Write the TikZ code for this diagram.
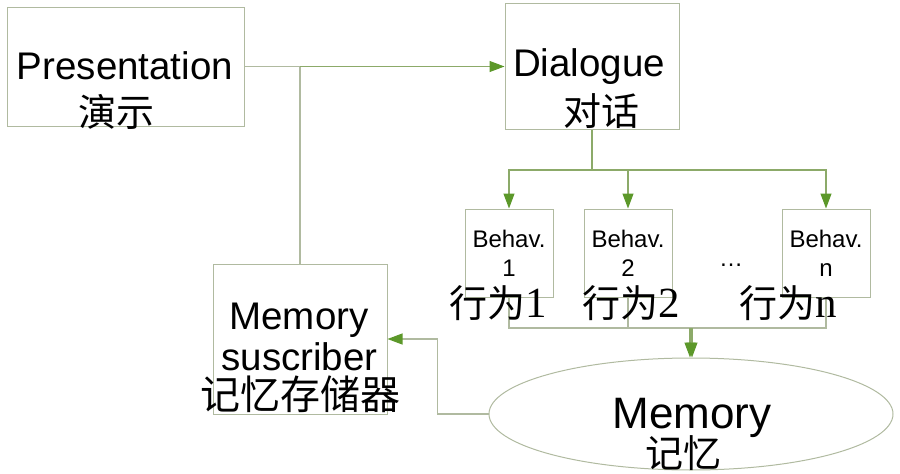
\documentclass[tikz,border=0pt]{standalone}
\usepackage{fontspec}
\setmainfont{Liberation Sans}
\newfontfamily\cjk{Noto Sans CJK SC}
\newfontfamily\digits{Liberation Serif}
\usetikzlibrary{arrows.meta,shapes.geometric,positioning}
\definecolor{boxline}{RGB}{176,186,160}
\definecolor{wireline}{RGB}{140,170,105}
\definecolor{tipgreen}{RGB}{92,152,42}

\begin{document}
\begin{tikzpicture}[x=1pt,y=-1pt,
    box/.style={draw=boxline,line width=1pt,inner sep=0pt},
    behav/.style={box,minimum width=88pt,minimum height=88pt},
    wire/.style={draw=wireline,line width=1.1pt},
    pale/.style={draw=boxline,line width=1.1pt},
    tip/.tip={Triangle[length=15pt,width=11pt,color=tipgreen]},
    big/.style={font=\fontsize{38.5}{40}\selectfont,inner sep=0pt,anchor=base},
    small/.style={font=\fontsize{24}{26}\selectfont,inner sep=0pt,anchor=base},
    han/.style={font=\cjk\fontsize{38}{40}\selectfont,inner sep=0pt}]
\useasboundingbox (0,0) rectangle (900,474);

\node[box,minimum width=237pt,minimum height=119pt] (pres) at (125.5,66.5) {};
\node[box,minimum width=174pt,minimum height=126pt] (dial) at (592,66.5) {};
\node[box,minimum width=174pt,minimum height=150pt] (msub) at (300,339) {};
\node[behav] (b1) at (509,253) {};
\node[behav] (b2) at (628,253) {};
\node[behav] (bn) at (826,253) {};
\node[box,ellipse,minimum width=404pt,minimum height=112pt] (mem) at (691,414) {};

\draw[pale] (pres.east) -- (msub.north |- pres.east) coordinate (corner);
\draw[wire,-tip] (corner) -- (dial.west);
\draw[pale] (msub.north) -- (corner);
\draw[wire] (dial.south) -- ++(0,40) coordinate (split);
\draw[wire,-tip] (split) -| (b1.north);
\draw[wire,-tip] (split) -| (b2.north);
\draw[wire,-tip] (split) -| (bn.north);
\coordinate (join) at (691,328);
\draw[pale] (b1.south) |- (bn.south |- join) -- (bn.south);
\draw[pale] (b2.south) -- (b2.south |- join);
\draw[wire,-tip] ([xshift=-1pt]join) -- ([xshift=-1pt]mem.north);
\draw[wire,-tip] ([xshift=1pt]join) -- ([xshift=1pt]mem.north);
\draw[pale,-tip] (mem.west) -- ++(-51,0) |- (msub.east);

\node[big] (pres-en) at (125,79) {Presentation};
\node[han] (pres-zh) at (116.5,111.5) {演示};
\node[big] (dial-en) at (589,76) {Dialogue};
\node[han] (dial-zh) at (601.5,111.5) {对话};
\node[big] (msub-en1) at (299,329) {Memory};
\node[big] (msub-en2) at (299.5,370) {suscriber};
\node[han,font=\cjk\fontsize{40}{40}\selectfont] (msub-zh) at (300,394.5) {记忆存储器};
\node[big,font=\fontsize{44}{46}\selectfont] (mem-en) at (692,428) {Memory};
\node[han] (mem-zh) at (683.5,453.5) {记忆};

\node[small] (b1-a) at (509,247) {Behav.};
\node[small] (b1-b) at (509,276) {1};
\node[small] (b2-a) at (628,247) {Behav.};
\node[small] (b2-b) at (628,276) {2};
\node[small] (bn-a) at (826,247) {Behav.};
\node[small] (bn-b) at (826,276) {n};
\node[small] (dots) at (731,266) {…};
\node[han,anchor=base] (b1-zh) at (498.5,317) {行为{\digits\fontsize{43}{43}\selectfont 1}};
\node[han,anchor=base] (b2-zh) at (631.5,317) {行为{\digits\fontsize{43}{43}\selectfont 2}};
\node[han,anchor=base] (bn-zh) at (788,317) {行为{\digits\fontsize{43}{43}\selectfont n}};
\end{tikzpicture}
\end{document}
